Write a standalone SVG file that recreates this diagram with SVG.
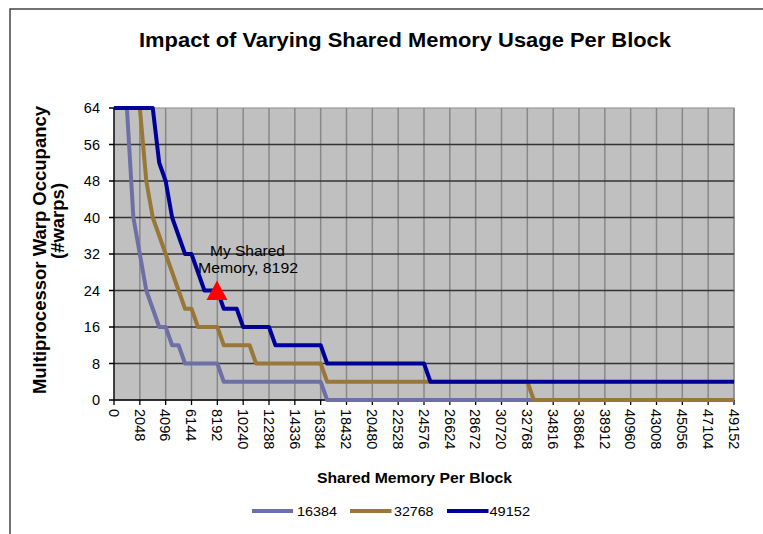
<svg xmlns="http://www.w3.org/2000/svg" width="763" height="534" viewBox="0 0 763 534">
<style>
.t{font-family:"Liberation Sans",Arial,sans-serif;fill:#000}
.b{font-weight:bold}
.vg{stroke:#888;stroke-width:1.5}
.hg{stroke:#333;stroke-width:1.5}
.ax{stroke:#000;stroke-width:1.3;fill:none}
.yl{font-size:14.5px;text-anchor:end}
.xl{font-size:14.5px}
.s1{stroke:#6f6fa7;stroke-width:4;fill:none;stroke-linejoin:round}
.s2{stroke:#987738;stroke-width:4;fill:none;stroke-linejoin:round}
.s3{stroke:#000099;stroke-width:4;fill:none;stroke-linejoin:round}
.lg{font-size:13px}
</style>
<rect width="763" height="534" fill="#fff"/>
<g id="frame"><path d="M10,540 V9 H770" fill="none" stroke="#444" stroke-width="1.5"/></g>
<g id="title"><text class="t b" x="139" y="47" font-size="20.5" textLength="532" lengthAdjust="spacingAndGlyphs">Impact of Varying Shared Memory Usage Per Block</text></g>
<g id="plot">
<rect x="114" y="108" width="620" height="292" fill="#c0c0c0" stroke="#999" stroke-width="1.2"/>
<g id="vgrid" class="vg">
<line x1="139.83" y1="108" x2="139.83" y2="400"/><line x1="165.67" y1="108" x2="165.67" y2="400"/><line x1="191.5" y1="108" x2="191.5" y2="400"/><line x1="217.33" y1="108" x2="217.33" y2="400"/><line x1="243.17" y1="108" x2="243.17" y2="400"/><line x1="269" y1="108" x2="269" y2="400"/><line x1="294.83" y1="108" x2="294.83" y2="400"/><line x1="320.67" y1="108" x2="320.67" y2="400"/><line x1="346.5" y1="108" x2="346.5" y2="400"/><line x1="372.33" y1="108" x2="372.33" y2="400"/><line x1="398.17" y1="108" x2="398.17" y2="400"/><line x1="424" y1="108" x2="424" y2="400"/><line x1="449.83" y1="108" x2="449.83" y2="400"/><line x1="475.67" y1="108" x2="475.67" y2="400"/><line x1="501.5" y1="108" x2="501.5" y2="400"/><line x1="527.33" y1="108" x2="527.33" y2="400"/><line x1="553.17" y1="108" x2="553.17" y2="400"/><line x1="579" y1="108" x2="579" y2="400"/><line x1="604.83" y1="108" x2="604.83" y2="400"/><line x1="630.67" y1="108" x2="630.67" y2="400"/><line x1="656.5" y1="108" x2="656.5" y2="400"/><line x1="682.33" y1="108" x2="682.33" y2="400"/><line x1="708.17" y1="108" x2="708.17" y2="400"/><line x1="734" y1="108" x2="734" y2="400"/>
</g>
<g id="hgrid" class="hg">
<line x1="114" y1="144.5" x2="734" y2="144.5"/><line x1="114" y1="181" x2="734" y2="181"/><line x1="114" y1="217.5" x2="734" y2="217.5"/><line x1="114" y1="254" x2="734" y2="254"/><line x1="114" y1="290.5" x2="734" y2="290.5"/><line x1="114" y1="327" x2="734" y2="327"/><line x1="114" y1="363.5" x2="734" y2="363.5"/>
</g>
</g>
<g id="axes">
<path class="ax" d="M114,108 V400 H734"/>
<path class="ax" d="M109,108H114M109,144.5H114M109,181H114M109,217.5H114M109,254H114M109,290.5H114M109,327H114M109,363.5H114M109,400H114"/>
<path class="ax" d="M114,400V405M139.83,400V405M165.67,400V405M191.5,400V405M217.33,400V405M243.17,400V405M269,400V405M294.83,400V405M320.67,400V405M346.5,400V405M372.33,400V405M398.17,400V405M424,400V405M449.83,400V405M475.67,400V405M501.5,400V405M527.33,400V405M553.17,400V405M579,400V405M604.83,400V405M630.67,400V405M656.5,400V405M682.33,400V405M708.17,400V405M734,400V405"/>
</g>
<g id="ylabels" class="t yl">
<text x="100" y="113">64</text><text x="100" y="149.5">56</text><text x="100" y="186">48</text><text x="100" y="222.5">40</text><text x="100" y="259">32</text><text x="100" y="295.5">24</text><text x="100" y="332">16</text><text x="100" y="368.5">8</text><text x="100" y="405">0</text>
</g>
<g id="xlabels" class="t xl">
<text transform="translate(108.8,409) rotate(90)">0</text>
<text transform="translate(134.63,409) rotate(90)">2048</text>
<text transform="translate(160.47,409) rotate(90)">4096</text>
<text transform="translate(186.3,409) rotate(90)">6144</text>
<text transform="translate(212.13,409) rotate(90)">8192</text>
<text transform="translate(237.97,409) rotate(90)">10240</text>
<text transform="translate(263.8,409) rotate(90)">12288</text>
<text transform="translate(289.63,409) rotate(90)">14336</text>
<text transform="translate(315.47,409) rotate(90)">16384</text>
<text transform="translate(341.3,409) rotate(90)">18432</text>
<text transform="translate(367.13,409) rotate(90)">20480</text>
<text transform="translate(392.97,409) rotate(90)">22528</text>
<text transform="translate(418.8,409) rotate(90)">24576</text>
<text transform="translate(444.63,409) rotate(90)">26624</text>
<text transform="translate(470.47,409) rotate(90)">28672</text>
<text transform="translate(496.3,409) rotate(90)">30720</text>
<text transform="translate(522.13,409) rotate(90)">32768</text>
<text transform="translate(547.97,409) rotate(90)">34816</text>
<text transform="translate(573.8,409) rotate(90)">36864</text>
<text transform="translate(599.63,409) rotate(90)">38912</text>
<text transform="translate(625.47,409) rotate(90)">40960</text>
<text transform="translate(651.3,409) rotate(90)">43008</text>
<text transform="translate(677.13,409) rotate(90)">45056</text>
<text transform="translate(702.97,409) rotate(90)">47104</text>
<text transform="translate(728.8,409) rotate(90)">49152</text>
</g>
<g id="ytitle" class="t b" font-size="18.5" text-anchor="middle">
<text transform="translate(46,250) rotate(-90)">Multiprocessor Warp Occupancy</text>
<text transform="translate(63.5,221) rotate(-90)">(#warps)</text>
</g>
<g id="xtitle"><text class="t b" x="317" y="483" font-size="15" textLength="195" lengthAdjust="spacingAndGlyphs">Shared Memory Per Block</text></g>
<g id="connectors">
<polyline id="series-16384" class="s1" points="114,108 126.92,108 133.38,217.5 139.83,254 146.29,290.5 152.75,308.75 159.21,327 165.67,327 172.13,345.25 178.58,345.25 185.04,363.5 217.33,363.5 223.79,381.75 320.67,381.75 327.13,400 734,400"/>
<polyline id="series-32768" class="s2" points="114,108 139.83,108 146.29,181 152.75,217.5 159.21,235.75 165.67,254 172.13,272.25 178.58,290.5 185.04,308.75 191.5,308.75 197.96,327 217.33,327 223.79,345.25 249.63,345.25 256.08,363.5 320.67,363.5 327.13,381.75 527.33,381.75 533.79,400 734,400"/>
<polyline id="series-49152" class="s3" points="114,108 152.75,108 159.21,162.75 165.67,181 172.13,217.5 178.58,235.75 185.04,254 191.5,254 197.96,272.25 204.42,290.5 217.33,290.5 223.79,308.75 236.71,308.75 243.17,327 269,327 275.46,345.25 320.67,345.25 327.13,363.5 424,363.5 430.46,381.75 734,381.75"/>
</g>
<g id="marker-8192">
<polygon points="217,280.5 206.5,300 227.5,300" fill="#ff0000"/>
<text class="t" x="247.5" y="256" font-size="14.5" text-anchor="middle" textLength="75" lengthAdjust="spacingAndGlyphs">My Shared</text>
<text class="t" x="248" y="273" font-size="14.5" text-anchor="middle" textLength="100" lengthAdjust="spacingAndGlyphs">Memory, 8192</text>
</g>
<g id="legend">
<line x1="252" y1="511" x2="293" y2="511" class="s1"/>
<text class="t lg" x="297" y="516" textLength="40" lengthAdjust="spacingAndGlyphs">16384</text>
<line x1="350" y1="511" x2="391.5" y2="511" class="s2"/>
<text class="t lg" x="394" y="516" textLength="39.5" lengthAdjust="spacingAndGlyphs">32768</text>
<line x1="447" y1="511" x2="488.5" y2="511" class="s3"/>
<text class="t lg" x="489.5" y="516" textLength="40.5" lengthAdjust="spacingAndGlyphs">49152</text>
</g>
</svg>
